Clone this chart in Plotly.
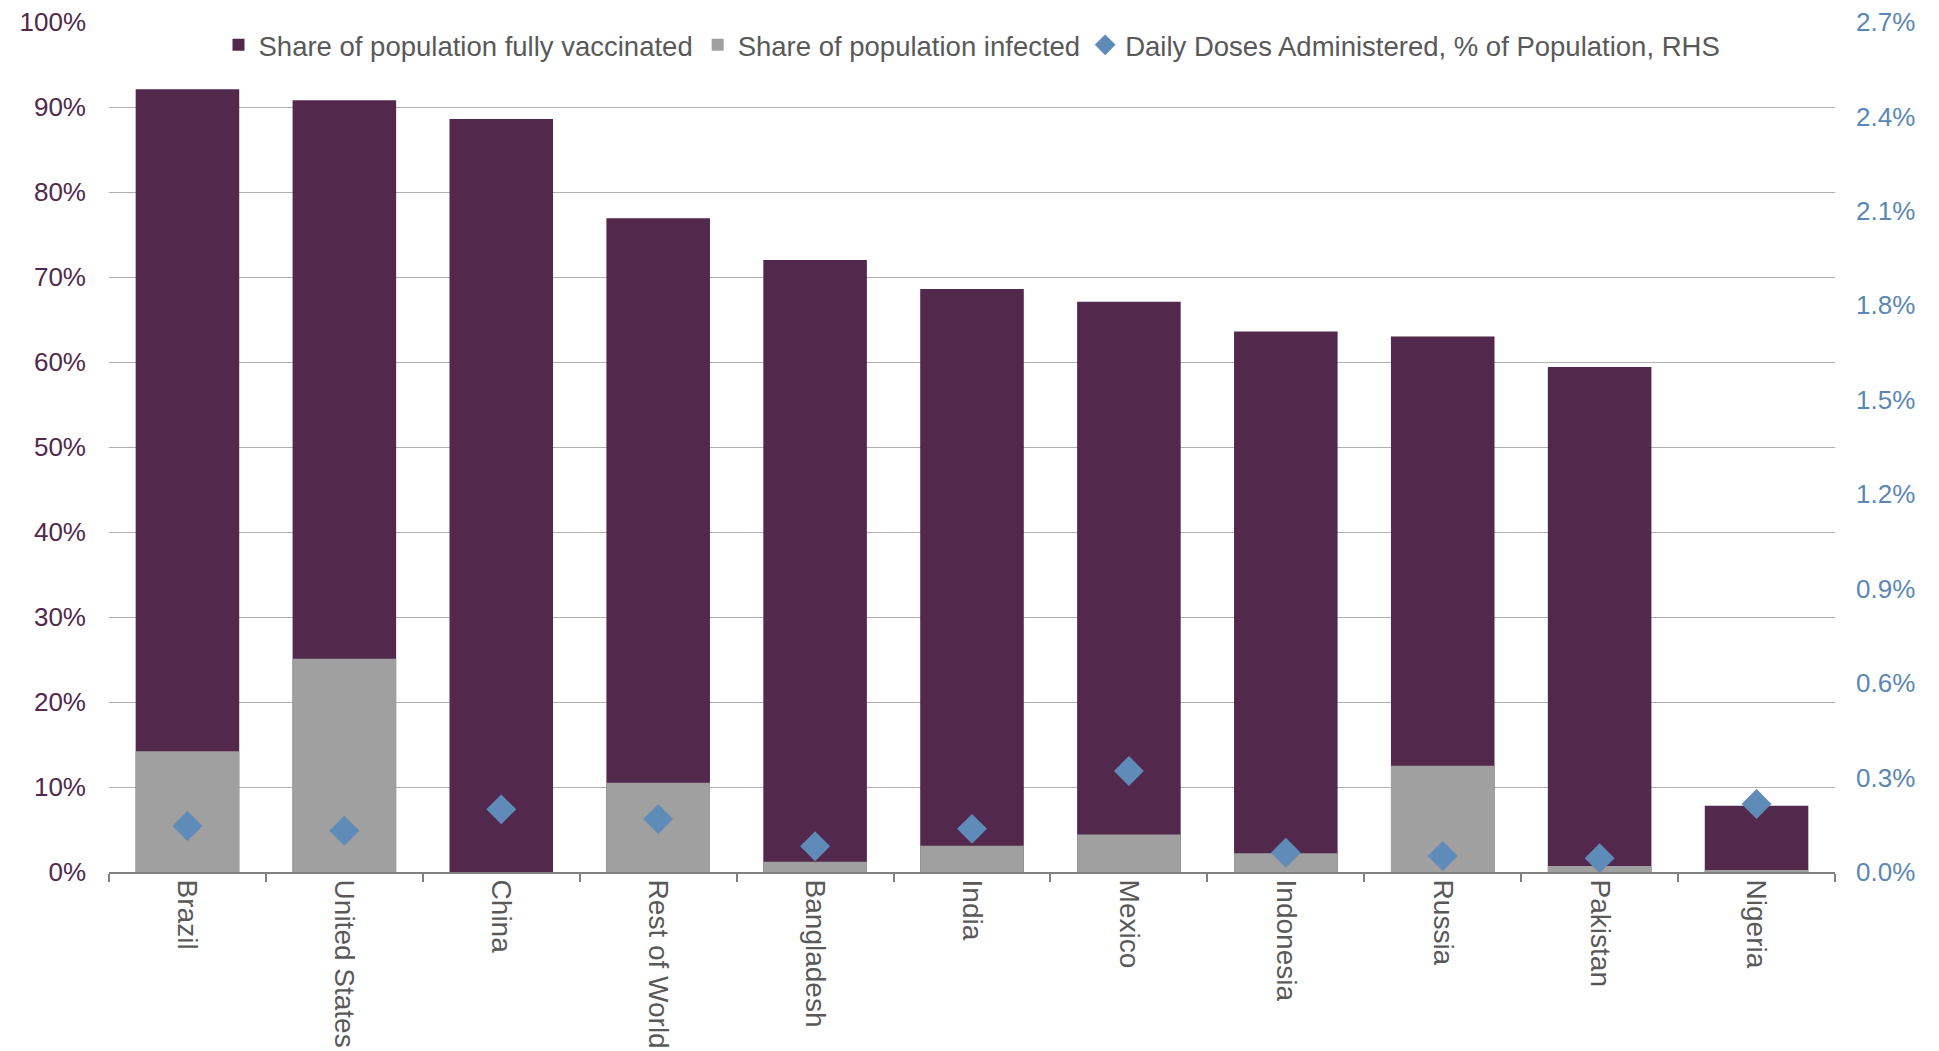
import plotly.graph_objects as go

countries = ["Brazil", "United States", "China", "Rest of World", "Bangladesh", "India",
             "Mexico", "Indonesia", "Russia", "Pakistan", "Nigeria"]
vaccinated = [92.1, 90.8, 88.6, 76.9, 72.0, 68.6, 67.1, 63.6, 63.0, 59.4, 7.8]
infected = [14.2, 25.1, 0.0, 10.5, 1.2, 3.1, 4.4, 2.2, 12.5, 0.7, 0.15]
daily_doses = [0.146, 0.131, 0.199, 0.168, 0.082, 0.137, 0.321, 0.061, 0.051, 0.044, 0.216]

left_ticks = [0, 10, 20, 30, 40, 50, 60, 70, 80, 90, 100]
right_ticks = [0.0, 0.3, 0.6, 0.9, 1.2, 1.5, 1.8, 2.1, 2.4, 2.7]
left_labels = [f"{v}%" for v in left_ticks]
right_labels = [f"{v:.1f}%" for v in right_ticks]

PURPLE = "#52284D"
GREY = "#A0A0A0"
BLUE = "#5F8BB9"
FONT = "Liberation Sans, Arial, sans-serif"

fig = go.Figure()
fig.add_trace(go.Bar(x=countries, y=vaccinated, name="Share of population fully vaccinated",
                     marker=dict(color=PURPLE, line=dict(width=0))))
fig.add_trace(go.Bar(x=countries, y=infected, name="Share of population infected",
                     marker=dict(color=GREY, line=dict(width=0))))
fig.add_trace(go.Scatter(x=countries, y=daily_doses, yaxis="y2", mode="markers",
                         name="Daily Doses Administered, % of Population, RHS",
                         marker=dict(symbol="diamond", size=23, color=BLUE)))

fig.update_layout(
    width=1939, height=1051,
    margin=dict(l=109, r=104, t=22, b=179),
    paper_bgcolor="white", plot_bgcolor="white",
    barmode="overlay", bargap=0.34,
    font=dict(family=FONT, color="#595959"),
    showlegend=True,
    legend=dict(orientation="h", x=0.5, xanchor="center", y=0.973, yanchor="middle",
                font=dict(size=27.5, color="#595959"), bgcolor="rgba(0,0,0,0)",
                itemwidth=30, tracegroupgap=0),
    xaxis=dict(tickangle=90, tickfont=dict(size=28, color="#595959"),
               range=[-0.5, len(countries) - 0.5], automargin=False,
               showline=True, linecolor="#808080", linewidth=2,
               ticks="outside", tickson="boundaries", ticklen=8, tickcolor="#808080", tickwidth=2,
               showgrid=False),
    yaxis=dict(range=[0, 100], tickmode="array", tickvals=left_ticks, ticktext=left_labels,
               tickfont=dict(size=26, color=PURPLE), automargin=False,
               showgrid=True, gridcolor="#B0B0B0", gridwidth=1.3,
               zeroline=False, showline=False, ticks="", ticklabelstandoff=22),
    yaxis2=dict(range=[0, 2.7], tickmode="array", tickvals=right_ticks, ticktext=right_labels,
                overlaying="y", side="right", automargin=False,
                tickfont=dict(size=26, color="#5B87B5"),
                showgrid=False, zeroline=False, showline=False, ticks="", ticklabelstandoff=20),
)

fig.write_html("out.html", config={"displayModeBar": False},
               post_script="document.body.style.margin='0';")
